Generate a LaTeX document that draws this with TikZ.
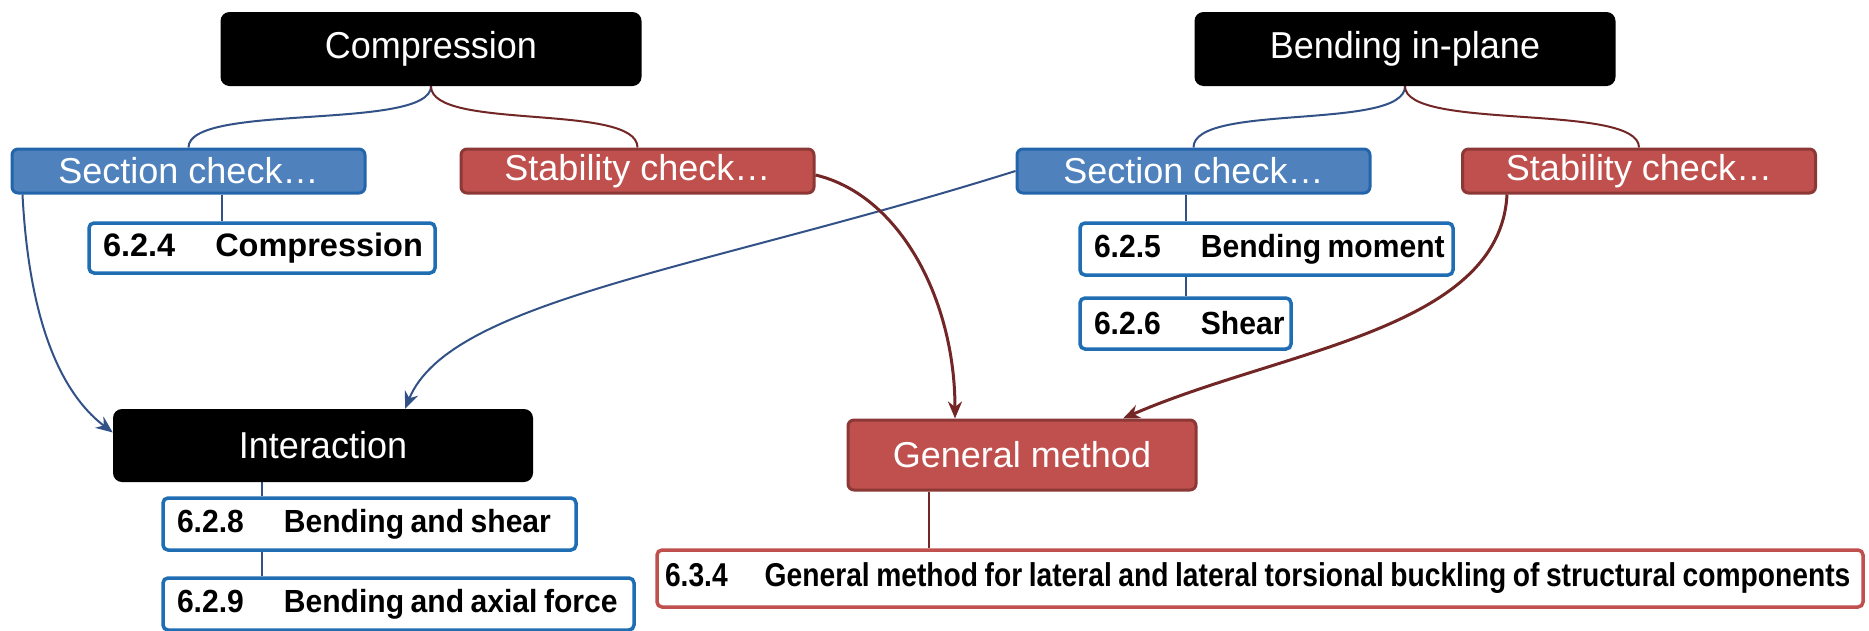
\documentclass[tikz,border=0pt]{standalone}
\usepackage{fontspec}
\setmainfont{Liberation Sans}
\newfontfamily\nbold{Liberation Sans}[FakeStretch=0.855]
\newfontfamily\rbold{Liberation Sans}[FakeStretch=0.94]
\newfontfamily\tfont{Liberation Sans}[FakeStretch=0.96]
\usetikzlibrary{arrows.meta,backgrounds,calc}
\definecolor{bfill}{RGB}{79,129,189}
\definecolor{bdraw}{RGB}{36,100,170}
\definecolor{rfill}{RGB}{192,80,77}
\definecolor{rdraw}{RGB}{140,56,54}
\definecolor{refb}{RGB}{31,110,180}
\definecolor{refr}{RGB}{192,80,77}
\definecolor{bline}{RGB}{50,82,135}
\definecolor{rline}{RGB}{115,38,38}
\newcommand{\gapsp}{\hspace{40pt}}
\newcommand{\reftxt}[1]{\mbox{\spaceskip=6.5pt plus 1pt\relax #1}}
\begin{document}
\begin{tikzpicture}[x=1pt,y=-1pt,
  topbox/.style={fill=black, rounded corners=9pt, text=white, inner sep=0pt,
    font=\tfont\fontsize{37.5}{40}\selectfont},
  bluebox/.style={fill=bfill, draw=bdraw, line width=3pt, rounded corners=6pt, text=white,
    inner sep=0pt, minimum width=353, minimum height=44, font=\fontsize{36}{40}\selectfont},
  redbox/.style={fill=rfill, draw=rdraw, line width=3pt, rounded corners=6pt, text=white,
    inner sep=0pt, minimum width=353, minimum height=44, font=\fontsize{36}{40}\selectfont},
  refblue/.style={fill=white, draw=refb, line width=3.5pt, rounded corners=5pt,
    inner xsep=14pt, inner ysep=0pt, align=left, font=\rbold\bfseries\fontsize{32}{36}\selectfont},
  refred/.style={fill=white, draw=refr, line width=3.5pt, rounded corners=5pt,
    inner xsep=8pt, inner ysep=0pt, align=left, font=\nbold\bfseries\fontsize{33}{37}\selectfont},
  bconn/.style={draw=bline, line width=2pt},
  rconn/.style={draw=rline, line width=2pt},
  barrow/.style={draw=bline, line width=2pt, -{Stealth[length=17pt,width=14pt]}},
  rarrow/.style={draw=rline, line width=3pt, -{Stealth[length=17pt,width=14pt]}}
]
\useasboundingbox (0,0) rectangle (1869,630);

\node[topbox, minimum width=421, minimum height=74] (comp) at (431,49) {Compression};
\node[topbox, minimum width=421, minimum height=74] (bend) at (1405,49) {Bending in-plane};
\node[bluebox] (secL) at (188.5,171) {Section check…};
\node[redbox] (stabL) at (637.5,171) {Stability check…};
\node[bluebox] (secR) at (1193.5,171) {Section check…};
\node[redbox] (stabR) at (1639,171) {Stability check…};
\node[refblue, minimum width=346, minimum height=50, text width=318, font=\bfseries\fontsize{32.5}{36}\selectfont] (c624) at (262,248) {\reftxt{6.2.4\gapsp Compression}};
\node[refblue, minimum width=373, minimum height=52, text width=345] (c625) at (1266.5,249) {\reftxt{6.2.5\gapsp Bending moment}};
\node[refblue, minimum width=211, minimum height=51, text width=183] (c626) at (1185.5,323.5) {\reftxt{6.2.6\gapsp Shear}};
\node[topbox, minimum width=420, minimum height=73] (inter) at (323,445.5) {Interaction};
\node[refblue, minimum width=413, minimum height=52, text width=385] (c628) at (369.5,524) {\reftxt{6.2.8\gapsp Bending and shear}};
\node[refblue, minimum width=471, minimum height=52, text width=443] (c629) at (398.5,604) {\reftxt{6.2.9\gapsp Bending and axial force}};
\node[redbox, minimum width=348, minimum height=70] (gen) at (1022,455) {General method};
\node[refred, minimum width=1206, minimum height=57, text width=1190] (c634) at (1260,578.5) {\reftxt{6.3.4\hspace{37pt}General method for lateral and lateral torsional buckling of structural components}};

\coordinate (xA) at (222,0);
\coordinate (xB) at (1186,0);
\coordinate (xC) at (262,0);
\coordinate (xD) at (929,0);

\begin{scope}[on background layer]
\fill[white] (0,0) rectangle (1869,630);
\draw[bconn] (comp.south) .. controls ($(comp.south)+(0,45)$) and ($(secL.north)+(0,-45)$) .. (secL.north);
\draw[rconn] (comp.south) .. controls ($(comp.south)+(0,45)$) and ($(stabL.north)+(0,-45)$) .. (stabL.north);
\draw[bconn] (bend.south) .. controls ($(bend.south)+(0,45)$) and ($(secR.north)+(0,-45)$) .. (secR.north);
\draw[rconn] (bend.south) .. controls ($(bend.south)+(0,45)$) and ($(stabR.north)+(0,-45)$) .. (stabR.north);
\draw[bconn, line width=1.2pt] (secL.south -| xA) -- (c624.north -| xA);
\draw[bconn, line width=1.2pt] (secR.south -| xB) -- (c625.north -| xB);
\draw[bconn, line width=1.2pt] (c625.south -| xB) -- (c626.north -| xB);
\draw[bconn, line width=1.2pt] (inter.south -| xC) -- (c628.north -| xC);
\draw[bconn, line width=1.2pt] (c628.south -| xC) -- (c629.north -| xC);
\draw[rconn, line width=1.2pt] (gen.south -| xD) -- (c634.north -| xD);
\end{scope}

\draw[barrow] ([xshift=12pt]secL.south west) .. controls (30,340) and (70,400) .. ([yshift=13pt]inter.west);
\draw[barrow] (secR.west) .. controls (700,270) and (450,300) .. ([xshift=82pt]inter.north);
\draw[rarrow] ([yshift=-4pt]stabL.east) .. controls (900,195) and (955,300) .. ([xshift=-67pt]gen.north);
\draw[rarrow] ([xshift=-132pt]stabR.south) .. controls (1500,330) and (1280,350) .. ([xshift=101pt]gen.north);
\end{tikzpicture}
\end{document}
